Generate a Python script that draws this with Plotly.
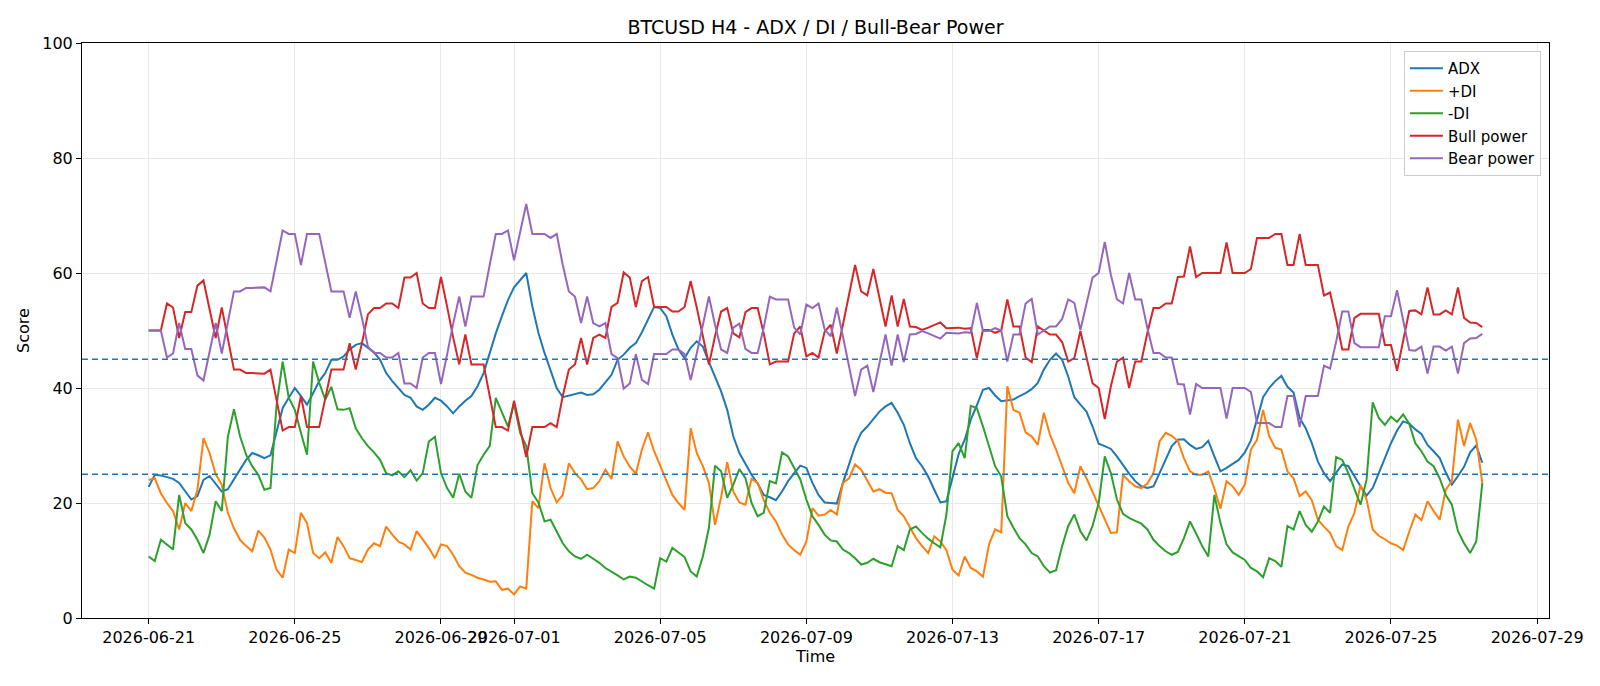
import pandas as pd
import plotly.graph_objects as go

start = "2026-06-21 00:00"
n_bars = 220
times = pd.date_range(start, periods=n_bars, freq="4h")

adx = [22.8, 24.9, 24.8, 24.5, 24.2, 23.5, 22, 20.6, 21.2, 24, 24.7, 23.3, 22, 22.4, 24, 25.8, 27.5, 28.7, 28.3, 27.8,
       28.3, 32.5, 36.5, 38.3, 40, 38.6, 37.1, 39.1, 41.2, 42.6, 44.9, 44.9, 45.5, 46.7, 47.5, 47.8, 47, 46.2, 44.9, 42.6,
       41.2, 40, 38.8, 38.3, 36.8, 36.2, 37.1, 38.3, 37.8, 36.8, 35.6, 36.8, 37.8, 38.6, 40.3, 42.6, 46.1, 49.5, 52.5, 55.3,
       57.5, 58.7, 60, 54.2, 49.6, 46.1, 43.2, 40, 38.4, 38.7, 38.9, 39.2, 38.8, 38.9, 39.7, 41, 42.3, 44.9, 45.8, 47,
       47.8, 49.7, 51.9, 54.1, 53.9, 52.5, 49.3, 46.7, 45.2, 47, 48.1, 47.2, 44.5, 42, 39.4, 36.2, 31.6, 28.7, 26.7, 24.9,
       23.4, 21.4, 21, 20.5, 22, 23.8, 25.2, 26.5, 26.1, 23.5, 21.4, 20.1, 20, 19.9, 23.5, 26.7, 29.9, 32.2, 33.3, 34.6,
       35.9, 36.8, 37.4, 35.7, 33.6, 30.4, 27.8, 26.4, 24.6, 22.3, 20.1, 20.3, 24.5, 28.5, 31, 34.5, 37, 39.7, 40, 38.7,
       37.7, 37.8, 38, 38.6, 39.1, 39.8, 40.9, 43.2, 44.9, 46, 44.9, 42, 38.4, 37.1, 35.9, 33.3, 30.3, 29.9, 29.4, 28.1,
       26.5, 25.1, 23.8, 22.9, 22.6, 22.9, 25.2, 27.5, 29.9, 31, 31.1, 30.1, 29.4, 29.7, 30.8, 28.1, 25.5, 26.1, 26.8, 27.5,
       28.8, 30.9, 34.5, 38.4, 40, 41.2, 42.1, 40.2, 39.2, 34.8, 33, 30.4, 27.2, 25.2, 23.8, 25.3, 26.7, 26.4, 24.6, 22.9,
       21.3, 22.6, 25.2, 27.8, 30.4, 32.6, 34.2, 33.8, 32.8, 32, 30.1, 29, 27.8, 25.3, 23.2, 24.7, 26.3, 28.8, 30, 27]

plus_di = [24, 24.3, 21.7, 20, 18.6, 15.4, 20, 18.6, 22.3, 31.3, 28.7, 25, 23.2, 18.3, 15.6, 13.6, 12.5, 11.6, 15.2, 14,
           11.9, 8.4, 7, 11.9, 11.3, 18.3, 16.5, 11.3, 10.4, 11.4, 9.6, 14.1, 12.5, 10.4, 10.1, 9.7, 11.9, 13, 12.5, 15.9,
           14.5, 13.3, 12.8, 11.9, 15.1, 13.6, 12.2, 10.4, 12.8, 12.5, 11, 9, 7.9, 7.5, 7, 6.7, 6.3, 6.4, 4.9, 5.1,
           4.1, 5.5, 5.1, 20.3, 19.1, 26.9, 22.6, 20.1, 21.4, 26.9, 25.2, 24.1, 22.4, 22.6, 23.8, 25.8, 24.2, 30.7, 28.1, 26.3,
           25.1, 29.3, 32.3, 29, 26.4, 24.1, 21.4, 20, 18.8, 33, 28.7, 26.4, 23.5, 16.2, 21, 27.1, 22, 20.1, 19.7, 24.2,
           23.5, 20.5, 18.3, 16.8, 14.5, 12.8, 11.8, 11, 13.3, 19.1, 17.8, 18, 18.8, 18, 23.5, 24.3, 26.7, 25.8, 23.8, 22,
           22.4, 21.8, 21.7, 18.8, 17.7, 15.9, 13.9, 12.5, 11.3, 14.2, 13.3, 11.8, 8.4, 7.4, 10.7, 8.7, 8.1, 7.2, 12.8, 15.4,
           14.9, 40.3, 36.2, 35.7, 32.3, 31.6, 30.1, 35.7, 31.9, 29.3, 26.5, 23.5, 21.7, 26.4, 24.3, 22, 19.4, 17.1, 14.8, 14.9,
           24.9, 23.8, 22.9, 22.6, 23.4, 25.2, 30.7, 32.2, 31.7, 30.8, 27.8, 25.5, 24.9, 24.9, 25.5, 22.5, 19, 23.8, 22.9, 21.4,
           23.2, 29.3, 31, 36.2, 31.6, 29.6, 29.3, 25.5, 24.3, 21.2, 22, 20.5, 17.1, 15.9, 14.8, 12.5, 11.8, 15.9, 18.3, 23.1,
           20.6, 15.4, 14.3, 13.7, 13, 12.6, 11.8, 15, 18, 17, 20.3, 18.6, 17.1, 22.3, 23.8, 34.5, 29.9, 33.9, 31, 23.5]

minus_di = [10.7, 9.9, 13.6, 12.8, 11.9, 21.4, 16.5, 15.4, 13.6, 11.3, 14.5, 20.3, 18.6, 31.5, 36.3, 31.6, 28.4, 26.4, 24.9, 22.3,
            22.6, 37, 44.6, 38.3, 36.2, 32.2, 28.4, 44.6, 40.9, 38, 40.2, 36.3, 36.2, 36.5, 33, 31.3, 29.9, 28.8, 27.5, 25.2,
            24.8, 25.5, 24.5, 25.7, 23.9, 25.2, 30.7, 31.5, 25.2, 22.6, 20.9, 25.1, 22, 20.9, 26.6, 28.4, 29.9, 38.3, 35.7, 33.3,
            37.3, 32.2, 29.9, 21.7, 20.1, 16.8, 17.1, 15.1, 13, 11.6, 10.7, 10.3, 11, 10.3, 9.6, 8.7, 8.1, 7.4, 6.7, 7.2,
            7, 6.3, 5.7, 5.1, 10.4, 9.8, 12.2, 11.4, 10.6, 8.1, 7.2, 10.7, 15.7, 26.5, 25.5, 20.9, 23.2, 25.9, 24.3, 20,
            17.7, 18.3, 23.8, 23.4, 28.8, 28.1, 26.1, 24.1, 20.6, 17.7, 16.2, 14.5, 13.5, 13.3, 11.9, 11.3, 10.4, 9.3, 9.6, 10.3,
            9.7, 9.3, 9, 12.5, 11.8, 15.4, 15.9, 14.8, 13.8, 13, 12.3, 18, 29, 30.4, 27.8, 36.9, 36.5, 33.3, 29.9, 26.4,
            24.6, 17.7, 15.7, 13.9, 12.8, 11.3, 10.7, 9, 7.9, 8.3, 12.5, 16, 18, 15.1, 13.5, 16, 20, 28.1, 25.2, 20.6,
            18.1, 17.4, 16.9, 16.4, 15.4, 13.6, 12.5, 11.6, 11, 11.5, 13.9, 16.8, 14.7, 12.5, 10.7, 21.4, 16.5, 12.8, 11.4, 10.7,
            10.1, 8.7, 8.1, 7.1, 10.4, 9.9, 8.9, 16, 15.4, 18.6, 16.2, 15, 16.8, 19.4, 18.3, 28, 27.5, 25.2, 22.6, 19.7,
            24.1, 37.5, 34.8, 33.6, 35, 34.1, 35.4, 33.8, 30.4, 29, 27.2, 26.4, 24.3, 21.4, 19.7, 15.1, 13, 11.3, 13.3, 23.5]

bull_power = [50, 50, 50, 54.7, 54, 48.7, 53.2, 53.2, 57.8, 58.7, 53.6, 48.7, 54, 48.7, 43.2, 43.2, 42.6, 42.6, 42.5, 42.5,
              43.2, 38, 32.6, 33.2, 33.2, 38.6, 33.2, 33.2, 33.2, 38.2, 43.2, 43.2, 43.2, 47.8, 43.2, 47.7, 52.8, 53.9, 53.9, 54.7,
              54.7, 53.9, 59.2, 59.2, 60, 54.7, 53.9, 53.9, 59.3, 54.2, 48.8, 44.1, 49.3, 44.1, 44.1, 44.1, 38.6, 33.2, 33.2, 32.6,
              37.8, 33, 28, 33.2, 33.2, 33.2, 33.9, 33.2, 38.6, 43.2, 44.1, 48.7, 44.1, 48.7, 49.3, 48.7, 54.1, 54.8, 60.1, 59.2,
              54.1, 58.6, 59.3, 54.1, 54.1, 54.1, 53.3, 53.3, 54.1, 58.6, 54, 49, 44.1, 49, 53.3, 53.9, 49.5, 48.8, 53.2, 53.9,
              53.9, 49.5, 44.1, 44.6, 44.6, 44.6, 49.5, 50.7, 45.5, 46.1, 45.3, 49.8, 51, 46, 51, 56, 61.4, 56.8, 56.1, 60.7,
              55.6, 50.7, 56.1, 50.7, 55.5, 50.7, 50.6, 50.1, 50.5, 51, 51.4, 50.4, 50.5, 50.5, 50.3, 50.4, 45.2, 50.1, 50.1, 49.6,
              50, 55.4, 50.7, 50.7, 45.3, 44.5, 50.7, 50, 49.3, 49.3, 48, 44.6, 45.2, 49.9, 45.3, 40.8, 40, 34.6, 40.3, 44.6,
              45.3, 40, 44.6, 44.6, 49.6, 53.9, 53.9, 54.7, 54.7, 59.3, 59.4, 64.6, 59.3, 60, 60, 60, 60, 65.3, 60, 60,
              60, 60.7, 66.1, 66.1, 66.1, 66.8, 66.8, 61.4, 61.4, 66.8, 61.4, 61.4, 61.4, 56.1, 56.6, 51.9, 46.7, 46.7, 52.2, 52.9,
              52.9, 52.9, 52.9, 47.5, 47.5, 43, 48.1, 53.4, 53.5, 52.8, 57.5, 52.8, 52.8, 53.5, 52.8, 57.5, 52.2, 51.4, 51.3, 50.6]

bear_power = [50, 50, 50, 45.3, 46, 51.3, 46.8, 46.8, 42.2, 41.3, 46.4, 51.3, 46, 51.3, 56.8, 56.8, 57.4, 57.4, 57.5, 57.5,
              56.8, 62, 67.4, 66.8, 66.8, 61.4, 66.8, 66.8, 66.8, 61.8, 56.8, 56.8, 56.8, 52.2, 56.8, 52.3, 47.2, 46.1, 46.1, 45.3,
              45.3, 46.1, 40.8, 40.8, 40, 45.3, 46.1, 46.1, 40.7, 45.8, 51.2, 55.9, 50.7, 55.9, 55.9, 55.9, 61.4, 66.8, 66.8, 67.4,
              62.2, 67, 72, 66.8, 66.8, 66.8, 66.1, 66.8, 61.4, 56.8, 55.9, 51.3, 55.9, 51.3, 50.7, 51.3, 45.9, 45.2, 39.9, 40.8,
              45.9, 41.4, 40.7, 45.9, 45.9, 45.9, 46.7, 46.7, 45.9, 41.4, 46, 51, 55.9, 51, 46.7, 46.1, 50.5, 51.2, 46.8, 46.1,
              46.1, 50.5, 55.9, 55.4, 55.4, 55.4, 50.5, 49.3, 54.5, 53.9, 54.7, 50.2, 49, 54, 49, 44, 38.6, 43.2, 43.9, 39.3,
              44.4, 49.3, 43.9, 49.3, 44.5, 49.3, 49.4, 49.9, 49.5, 49, 48.6, 49.6, 49.5, 49.5, 49.7, 49.6, 54.8, 49.9, 49.9, 50.4,
              50, 44.6, 49.3, 49.3, 54.7, 55.5, 49.3, 50, 50.7, 50.7, 52, 55.4, 54.8, 50.1, 54.7, 59.2, 60, 65.4, 59.7, 55.4,
              54.7, 60, 55.4, 55.4, 50.4, 46.1, 46.1, 45.3, 45.3, 40.7, 40.6, 35.4, 40.7, 40, 40, 40, 40, 34.7, 40, 40,
              40, 39.3, 33.9, 33.9, 33.9, 33.2, 33.2, 38.6, 38.6, 33.2, 38.6, 38.6, 38.6, 43.9, 43.4, 48.1, 53.3, 53.3, 47.8, 47.1,
              47.1, 47.1, 47.1, 52.5, 52.5, 57, 51.9, 46.6, 46.5, 47.2, 42.5, 47.2, 47.2, 46.5, 47.2, 42.5, 47.8, 48.6, 48.7, 49.4]

series = [
    ("ADX", adx, "#1f77b4"),
    ("+DI", plus_di, "#ff7f0e"),
    ("-DI", minus_di, "#2ca02c"),
    ("Bull power", bull_power, "#d62728"),
    ("Bear power", bear_power, "#9467bd"),
]

threshold_levels = [45, 25]
tick_dates = ["2026-06-21", "2026-06-25", "2026-06-29", "2026-07-01", "2026-07-05", "2026-07-09",
              "2026-07-13", "2026-07-17", "2026-07-21", "2026-07-25", "2026-07-29"]
y_ticks = [0, 20, 40, 60, 80, 100]

fig = go.Figure()
for name, vals, color in series:
    fig.add_trace(go.Scatter(x=times, y=vals, mode="lines", name=name,
                             line=dict(color=color, width=2)))

for lvl in threshold_levels:
    fig.add_hline(y=lvl, line=dict(color="#1f77b4", width=1.3, dash="6px,4px"))

span = times[-1] - times[0]
pad = span * 0.05
x_range = [times[0] - pad, times[-1] + pad]

font_family = "DejaVu Sans"
fig.update_layout(
    width=1600, height=686,
    margin=dict(l=82, r=51, t=43, b=68),
    paper_bgcolor="white", plot_bgcolor="white",
    font=dict(family=font_family, size=16, color="black"),
    title=dict(text="BTCUSD H4 - ADX / DI / Bull-Bear Power", xref="paper", x=0.5, xanchor="center",
               y=1 - 27 / 686, yanchor="middle", font=dict(size=19, color="black")),
    showlegend=True,
    legend=dict(x=0.9945, y=0.986, xanchor="right", yanchor="top",
                bgcolor="rgba(255,255,255,0.85)", bordercolor="#cccccc", borderwidth=1,
                font=dict(size=15), itemwidth=33, tracegroupgap=0),
)
fig.update_xaxes(
    range=x_range, tickvals=pd.to_datetime(tick_dates), ticktext=tick_dates, tickangle=0,
    showgrid=True, gridcolor="#e8e8e8", gridwidth=1, automargin=False,
    showline=True, linecolor="black", linewidth=1, mirror=True,
    ticks="outside", ticklen=5, tickcolor="black", tickfont=dict(size=16),
    title=dict(text="Time", font=dict(size=16), standoff=4), zeroline=False,
)
fig.update_yaxes(
    range=[0, 100], tickvals=y_ticks, automargin=False,
    showgrid=True, gridcolor="#e8e8e8", gridwidth=1,
    showline=True, linecolor="black", linewidth=1, mirror=True,
    ticks="outside", ticklen=5, tickcolor="black", tickfont=dict(size=16),
    title=dict(text="Score", font=dict(size=16), standoff=8), zeroline=False,
)

fig.write_html("out.html")
